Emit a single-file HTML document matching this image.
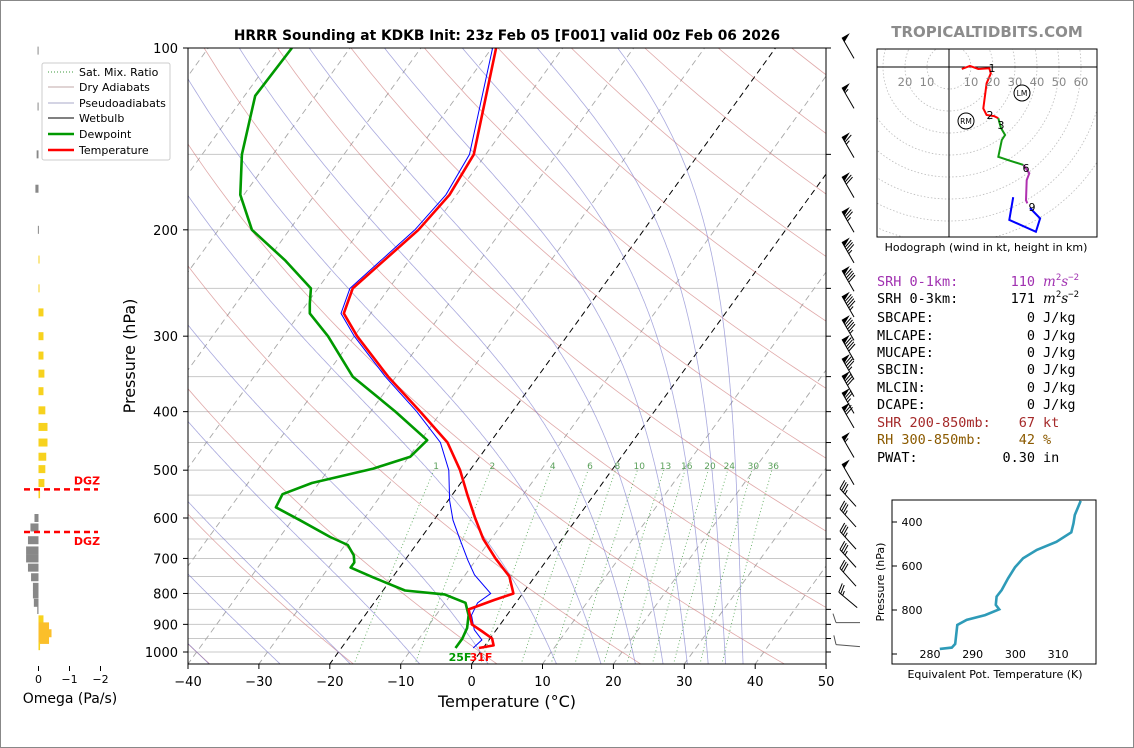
<!DOCTYPE html>
<html><head><meta charset="utf-8">
<style>
html,body{margin:0;padding:0;background:#fff;}
svg{display:block;font-family:"DejaVu Sans","Liberation Sans",sans-serif;}
</style></head>
<body>
<svg id="root" width="1134" height="748" viewBox="0 0 1134 748" xmlns="http://www.w3.org/2000/svg">
<rect x="0.5" y="0.5" width="1133" height="747" fill="#fff" stroke="#888"/>
<defs>
<clipPath id="mainclip"><rect x="188" y="48" width="638" height="616"/></clipPath>
<clipPath id="hodoclip"><rect x="877" y="49" width="220" height="188"/></clipPath>
</defs>
<text x="507" y="40" text-anchor="middle" font-size="13.8" font-weight="bold">HRRR Sounding at KDKB Init: 23z Feb 05 [F001] valid 00z Feb 06 2026</text>
<text x="987" y="37" text-anchor="middle" font-size="15" font-weight="bold" fill="#8c8c8c">TROPICALTIDBITS.COM</text>
<g id="bg" clip-path="url(#mainclip)"></g>
<g id="series" clip-path="url(#mainclip)"></g>
<g id="axes"></g>
<g id="barbs"></g>
<g id="omega"></g>
<g id="hodo"></g>
<g id="thetae"></g>
<g id="legend">
<rect x="42" y="63" width="128" height="97" fill="#fff" stroke="#ccc" rx="2"/>
<line x1="48" y1="72" x2="74" y2="72" stroke="#3c9a3c" stroke-dasharray="1,2"/>
<text x="79" y="76" font-size="11">Sat. Mix. Ratio</text>
<line x1="48" y1="87" x2="74" y2="87" stroke="#c0a8a8"/>
<text x="79" y="91" font-size="11">Dry Adiabats</text>
<line x1="48" y1="103" x2="74" y2="103" stroke="#aaaac8"/>
<text x="79" y="107" font-size="11">Pseudoadiabats</text>
<line x1="48" y1="118" x2="74" y2="118" stroke="#000" stroke-width="1"/>
<text x="79" y="122" font-size="11">Wetbulb</text>
<line x1="48" y1="134" x2="74" y2="134" stroke="#009900" stroke-width="2.5"/>
<text x="79" y="138" font-size="11">Dewpoint</text>
<line x1="48" y1="150" x2="74" y2="150" stroke="#ff0000" stroke-width="2.5"/>
<text x="79" y="154" font-size="11">Temperature</text>
</g>
<g id="stats" font-family="'DejaVu Sans Mono','Liberation Mono',monospace" font-size="13.5"></g>
</svg>
<script>
// ---------- main sounding data ----------
const tempP=[100,150,175,200,250,275,300,350,400,450,500,550,600,650,700,750,800,820,850,900,925,950,975,985];
const tempC=[-59.4,-51.7,-51.0,-51.8,-55.1,-53.8,-49.6,-41.1,-33.0,-26.0,-21.4,-17.8,-14.4,-11.1,-7.4,-3.6,-1.3,-3.3,-6.0,-4.0,-1.8,0.3,1.2,-0.6];
const dewP=[100,120,150,175,200,225,250,265,275,300,350,400,446,475,497,525,548,576,605,645,665,692,711,725,752,791,803,829,869,913,951,985];
const dewC=[-88.2,-88.5,-84.4,-80.5,-75.3,-67.4,-61.0,-59.6,-58.6,-53.7,-46.1,-36.5,-29.1,-29.8,-33.8,-41.0,-44.0,-43.6,-38.9,-32.9,-29.6,-27.7,-26.9,-26.9,-22.8,-16.9,-10.9,-7.1,-5.4,-4.3,-3.9,-3.9];
const wbP=[100,150,175,200,250,275,300,350,400,450,500,561,605,652,705,745,800,829,869,919,955,985];
const wbC=[-59.9,-52.3,-51.5,-52.3,-55.5,-54.2,-50.0,-41.5,-33.5,-27.0,-23.0,-19.8,-17.3,-14.3,-11.1,-8.7,-4.5,-5.4,-5.0,-3.1,-1.0,-1.4];
const pTicks=[100,200,300,400,500,600,700,800,900,1000];
const tTicks=[-40,-30,-20,-10,0,10,20,30,40,50];
const mixRatios=[1,2,4,6,8,10,13,16,20,24,30,36];
// wind barbs
const barbP=[100,121,146,170,194,218,243,268,293,316,340,363,387,409,458,508,555,600,653,700,752,820,894,976];
const barbSpd=[50,55,65,70,75,85,90,95,95,90,85,80,75,70,55,50,35,35,35,35,30,25,10,10];
const barbDir=[330,330,330,330,330,330,330,330,330,330,330,330,330,330,330,330,318,318,318,318,318,310,270,275];
// omega
const omegaP=[101,125,150,171,200,224,250,274,300,323,346,370,398,424,450,475,498,525,548,600,622,653,679,700,725,752,780,803,829,852,883,907,931,955,978];
const omegaV=[0.03,0.03,0.06,0.1,0.02,-0.03,-0.03,-0.16,-0.16,-0.16,-0.19,-0.16,-0.22,-0.29,-0.29,-0.25,-0.22,-0.19,-0.05,0.13,0.26,0.34,0.4,0.4,0.34,0.24,0.18,0.18,0.15,0.04,-0.16,-0.34,-0.42,-0.34,-0.05];
const omegaTicks=[0,-1,-2];
const dgzP=[538,633];
// hodograph (kt)
const hodoRedU=[5.8,9.5,13.3,18.3,19,17.1,16.4,15.6,17.1,20.5,22.4];
const hodoRedV=[-0.9,0.5,-0.9,-0.6,-2.9,-7.4,-12.7,-18.8,-21.8,-22.3,-23.3];
const hodoGreenU=[22.4,23.6,25.5,24,22.4,27.7,33.8];
const hodoGreenV=[-23.3,-27.7,-30.9,-33.2,-40.8,-42.6,-44.5];
const hodoMagU=[33.8,36.5,35.3,35,35.6];
const hodoMagV=[-44.5,-48.3,-51.4,-60.5,-62];
const hodoBlueU=[36.8,41.4,39.5,27.4,29.2];
const hodoBlueV=[-64.1,-68.8,-74.9,-69.5,-59.2];
const hodoRings=[10,20,30,40,50,60,70,80];
// theta-e
const thetaP=[304,368,406,447,490,527,565,606,656,709,739,777,797,823,845,868,921,954,971,977];
const thetaK=[315.3,313.9,313.6,313.1,309.6,305.0,301.8,299.9,298.3,296.8,295.6,295.4,296.2,292.9,288.6,286.4,286.1,285.9,285.1,282.3];
const thetaXTicks=[280,290,300,310];
const thetaYTicks=[400,600,800,1000];

const NS="http://www.w3.org/2000/svg";
function mk(tag,attrs,parent,txt){const e=document.createElementNS(NS,tag);for(const k in attrs)e.setAttribute(k,attrs[k]);if(txt!==undefined)e.textContent=txt;parent.appendChild(e);return e;}
function yP(p){return 48+604*Math.log10(p/100);}
function xT(T,p){return 188+(T+40)*7.09+0.7235*(664-yP(p));}
function pathFrom(ps,ts){return ps.map((p,i)=>(i?'L':'M')+xT(ts[i],p).toFixed(1)+','+yP(p).toFixed(1)).join('');}

const bg=document.getElementById('bg');
for(let p=100;p<=1000;p+=50){
  const l=mk('line',{x1:188,x2:826,y1:yP(p),y2:yP(p),stroke:'#c8c8c8','stroke-width':1},bg);
  
  
}
for(let T=-130;T<=50;T+=10){
  const bl=(T===0||T===-20);
  const l=mk('line',{x1:xT(T,1050),y1:yP(1050),x2:xT(T,100),y2:yP(100),stroke:bl?'#000':'#a8a8a8','stroke-width':bl?1:0.9,'stroke-dasharray':'6,4'},bg);
  
  
}
for(let th=-60;th<=240;th+=20){
  const TH=th+273.15;let d='';
  for(let p=1050;p>=100;p-=10){const T=TH*Math.pow(p/1000,0.2857)-273.15;d+=(d?'L':'M')+xT(T,p).toFixed(1)+','+yP(p).toFixed(1);}
  const l=mk('path',{d:d,fill:'none',stroke:'#cc7070','stroke-width':0.8,'stroke-opacity':0.6},bg);
  
  
}
function esat(Tc){return 6.112*Math.exp(17.67*Tc/(Tc+243.5));}
function dTdp(T,p){const Rd=287.04,Cp=1005.7,Lv=2.501e6,eps=0.622;const e=esat(T-273.15);const rs=eps*e/(p-e);return (Rd*T+Lv*rs)/(p*(Cp+Lv*Lv*rs*eps/(Rd*T*T)));}
const moistStarts=[-50,-40,-30,-20,-10,0,10,16.5,21.5,25.5,29,32,34.5,37];
moistStarts.forEach(t0=>{
  let pts=[];let T=t0+273.15;
  for(let p=1000;p>=100;p-=2){pts.push([p,T]);T-=dTdp(T,p)*2;}
  let T2=t0+273.15;const low=[];
  for(let p=1000;p<=1050;p+=2){low.unshift([p,T2]);T2+=dTdp(T2,p)*2;}
  pts=low.concat(pts);
  const d=pts.map((q,i)=>(i?'L':'M')+xT(q[1]-273.15,q[0]).toFixed(1)+','+yP(q[0]).toFixed(1)).join('');
  const l=mk('path',{d:d,fill:'none',stroke:'#7070c8','stroke-width':0.8,'stroke-opacity':0.6},bg);
  
  
});
function tdFromW(w,p){const e=w*p/(622+w);const L=Math.log(e/6.112);return 243.5*L/(17.67-L);}
mixRatios.forEach(w=>{
  let d='';for(let p=1050;p>=500;p-=10){d+=(d?'L':'M')+xT(tdFromW(w,p),p).toFixed(1)+','+yP(p).toFixed(1);}
  const l=mk('path',{d:d,fill:'none',stroke:'#3c9a3c','stroke-width':0.9,'stroke-dasharray':'1,2.5','stroke-opacity':0.8},bg);
  
  
  const t=mk('text',{x:xT(tdFromW(w,490),490),y:yP(490)+4,'font-size':9,fill:'#5aa05a','text-anchor':'middle'},bg,String(w));
  
  
});

const se=document.getElementById('series');
const wb=mk('path',{d:pathFrom(wbP,wbC),fill:'none',stroke:'#0000ff','stroke-width':1},se);


const dw=mk('path',{d:pathFrom(dewP,dewC),fill:'none',stroke:'#009900','stroke-width':2.6,'stroke-linejoin':'round'},se);


const tp=mk('path',{d:pathFrom(tempP,tempC),fill:'none',stroke:'#ff0000','stroke-width':2.6,'stroke-linejoin':'round'},se);


const sfcY=yP(985)+13;
const l25=mk('text',{x:460,y:sfcY,'font-size':11,'font-weight':'bold',fill:'#009900','text-anchor':'middle'},se,'25F');


const l31=mk('text',{x:481,y:sfcY,'font-size':11,'font-weight':'bold',fill:'#ff0000','text-anchor':'middle'},se,'31F');



const ax=document.getElementById('axes');
const fr=mk('rect',{x:188,y:48,width:638,height:616,fill:'none',stroke:'#000','stroke-width':1},ax);


pTicks.forEach(p=>{
  const y=yP(p);
  const tk=mk('line',{x1:183,x2:188,y1:y,y2:y,stroke:'#000'},ax);
  
  
  const t=mk('text',{x:178,y:y+5,'font-size':13,'text-anchor':'end'},ax,String(p));
  
  
});
for(let p=100;p<=1000;p+=50){
  const y=yP(p);
  const tk=mk('line',{x1:826,x2:831,y1:y,y2:y,stroke:'#000'},ax);
  
  
}
tTicks.forEach(T=>{
  const x=188+(T+40)*7.09;
  const tk=mk('line',{x1:x,x2:x,y1:664,y2:669},ax);
  tk.setAttribute('stroke','#000');
  
  
  const t=mk('text',{x:x,y:686,'font-size':13,'text-anchor':'middle'},ax,String(T).replace('-','\u2212'));
  
  
});
const xt=mk('text',{x:507,y:707,'font-size':16,'text-anchor':'middle'},ax,'Temperature (\u00B0C)');


const yt=mk('text',{x:0,y:0,'font-size':16,'text-anchor':'middle',transform:'translate(135,356) rotate(-90)'},ax,'Pressure (hPa)');



const bb=document.getElementById('barbs');
barbP.forEach((p,i)=>{
  const cx=848,cy=yP(p);const d=barbDir[i]*Math.PI/180;
  const vx=Math.sin(d),vy=-Math.cos(d);const px=-vy,py=vx;
  const L=24;const bx=cx-vx*L/2,by=cy-vy*L/2,tx=cx+vx*L/2,ty=cy+vy*L/2;
  const g=mk('g',{},bb);
  
  
  const col=(barbDir[i]<300)?'#555':'#000';
  mk('line',{x1:bx,y1:by,x2:tx,y2:ty,stroke:col,'stroke-width':1},g);
  let s=Math.round(barbSpd[i]/5)*5;let pos=0;
  while(s>=50){const ax1=tx-vx*pos,ay1=ty-vy*pos,ax2=tx-vx*(pos+5),ay2=ty-vy*(pos+5);
    mk('polygon',{points:`${ax1},${ay1} ${ax1+px*9},${ay1+py*9} ${ax2},${ay2}`,fill:'#000'},g);pos+=6;s-=50;}
  while(s>=10){const ax1=tx-vx*pos,ay1=ty-vy*pos;mk('line',{x1:ax1,y1:ay1,x2:ax1+px*9+vx*3,y2:ay1+py*9+vy*3,stroke:col,'stroke-width':1},g);pos+=2.5;s-=10;}
  if(s>=5){if(pos===0)pos=2.5;const ax1=tx-vx*pos,ay1=ty-vy*pos;mk('line',{x1:ax1,y1:ay1,x2:ax1+px*4.5+vx*1.5,y2:ay1+py*4.5+vy*1.5,stroke:col,'stroke-width':1},g);}
});

const om=document.getElementById('omega');
function xO(v){return 38.5-31*v;}
omegaP.forEach((p,i)=>{
  const v=omegaV[i];const y=yP(p);const x0=xO(0),x1=xO(v);
  const col=v>0?'#888':(Math.abs(v)>0.3?'#fbbf2a':'#f7d21e');
  const r=mk('rect',{x:Math.min(x0,x1),y:y-4,width:Math.max(Math.abs(x1-x0),1),height:8,fill:col},om);
  
  
});
omegaTicks.forEach(v=>{
  const x=xO(v);
  const tk=mk('line',{x1:x,x2:x,y1:666,y2:671,stroke:'#000'},om);
  
  
  const t=mk('text',{x:x,y:683,'font-size':11,'text-anchor':'middle'},om,String(v).replace('-','\u2212'));
  
  
});
const ot=mk('text',{x:70,y:703,'font-size':14,'text-anchor':'middle'},om,'Omega (Pa/s)');


dgzP.forEach((p,i)=>{
  const y=yP(p);
  const l=mk('line',{x1:24,x2:98,y1:y,y2:y,stroke:'#ff0000','stroke-width':2.5,'stroke-dasharray':'6,4'},om);
  
  
  const t=mk('text',{x:87,y:i===0?y-5:y+13,'font-size':11,'font-weight':'bold',fill:'#ff0000','text-anchor':'middle'},om,'DGZ');
  
  
});

const hd=document.getElementById('hodo');
const OX=949,OY=67,SC=2.2;
function hx(u){return OX+u*SC;} function hy(v){return OY-v*SC;}
const hg=mk('g',{'clip-path':'url(#hodoclip)'},hd);
hodoRings.forEach(r=>{
  const c=mk('circle',{cx:OX,cy:OY,r:r*SC,fill:'none',stroke:'#bbb','stroke-width':0.8,'stroke-dasharray':'1.5,2'},hg);
  
  
});
mk('line',{x1:877,x2:1097,y1:OY,y2:OY,stroke:'#000','stroke-width':1},hg);
mk('line',{x1:OX,x2:OX,y1:49,y2:237,stroke:'#000','stroke-width':1},hg);
const hb=mk('rect',{x:877,y:49,width:220,height:188,fill:'none',stroke:'#000'},hd);


[[20,-1],[10,-1],[10,1],[20,1],[30,1],[40,1],[50,1],[60,1]].forEach(a=>{
  const t=mk('text',{x:hx(a[0]*a[1]),y:86,'font-size':11.5,fill:'#888','text-anchor':'middle'},hd,String(a[0]));
  
  
});
function hodoPath(us,vs,col,name){
  const d=us.map((u,i)=>(i?'L':'M')+hx(u).toFixed(1)+','+hy(vs[i]).toFixed(1)).join('');
  const p=mk('path',{d:d,fill:'none',stroke:col,'stroke-width':2},hg);
  
  
}
hodoPath(hodoRedU,hodoRedV,'#ff0000','hodo-0-3km');
hodoPath(hodoGreenU,hodoGreenV,'#119911','hodo-3-6km');
hodoPath(hodoMagU,hodoMagV,'#b030b0','hodo-6-9km');
hodoPath(hodoBlueU,hodoBlueV,'#0000ff','hodo-9-12km');
[['1',992,72],['2',990,119],['3',1001,129],['6',1026,172],['9',1032,211]].forEach(a=>{
  const t=mk('text',{x:a[1],y:a[2],'font-size':11,'text-anchor':'middle'},hd,a[0]);
  
  
});
[['RM',966,121],['LM',1022,93]].forEach(a=>{
  const c=mk('circle',{cx:a[1],cy:a[2],r:8,fill:'none',stroke:'#000','stroke-width':1},hd);
  
  
  mk('text',{x:a[1],y:a[2]+3,'font-size':7.5,'text-anchor':'middle'},hd,a[0]);
});
const hc=mk('text',{x:986,y:251,'font-size':11,'text-anchor':'middle'},hd,'Hodograph (wind in kt, height in km)');



const te=document.getElementById('thetae');
function tx2(k){return 930+(k-280)*4.27;} function ty2(p){return 522+(p-400)*0.22;}
const tb=mk('rect',{x:892,y:500,width:204,height:164,fill:'none',stroke:'#000'},te);


thetaYTicks.forEach(p=>{
  const y=ty2(p);
  mk('line',{x1:892,x2:897,y1:y,y2:y,stroke:'#000'},te);
  if(p<1000){const t=mk('text',{x:912,y:y+4,'font-size':11,'text-anchor':'middle'},te,String(p));
  
  }
});
thetaXTicks.forEach(k=>{
  const t=mk('text',{x:tx2(k),y:658,'font-size':11,'text-anchor':'middle'},te,String(k));
  
  
});
const tpth=mk('path',{d:thetaP.map((p,i)=>(i?'L':'M')+tx2(thetaK[i]).toFixed(1)+','+ty2(p).toFixed(1)).join(''),fill:'none',stroke:'#2e9bb8','stroke-width':2.6},te);


const txl=mk('text',{x:995,y:678,'font-size':11,'text-anchor':'middle'},te,'Equivalent Pot. Temperature (K)');


const tyl=mk('text',{x:0,y:0,'font-size':11,'text-anchor':'middle',transform:'translate(884,582) rotate(-90)'},te,'Pressure (hPa)');



const st=document.getElementById('stats');
const rows=[['SRH 0-1km:','110','m2s-2','#a030b0',286],['SRH 0-3km:','171','m2s-2','#000',303],['SBCAPE:','0','J/kg','#000',322],['MLCAPE:','0','J/kg','#000',340],['MUCAPE:','0','J/kg','#000',357],['SBCIN:','0','J/kg','#000',374],['MLCIN:','0','J/kg','#000',392],['DCAPE:','0','J/kg','#000',409],['SHR 200-850mb:','67','kt','#a52a2a',427],['RH 300-850mb:','42','%','#8b5a00',444],['PWAT:','0.30','in','#000',462]];
rows.forEach(r=>{
  const g=mk('g',{fill:r[3]},st);
  
  
  mk('text',{x:877,y:r[4]},g,r[0]);
  mk('text',{x:1035,y:r[4],'text-anchor':'end'},g,r[1]);
  if(r[2]==='m2s-2'){
    const t=mk('text',{x:1043,y:r[4]},g);
    mk('tspan',{'font-style':'italic','font-family':'DejaVu Serif, serif'},t,'m');
    mk('tspan',{dy:-6,'font-size':9},t,'2');
    mk('tspan',{dy:6,'font-style':'italic','font-family':'DejaVu Serif, serif'},t,'s');
    mk('tspan',{dy:-6,'font-size':9},t,'\u22122');
  } else mk('text',{x:1043,y:r[4]},g,r[2]);
});
</script>
</body></html>
